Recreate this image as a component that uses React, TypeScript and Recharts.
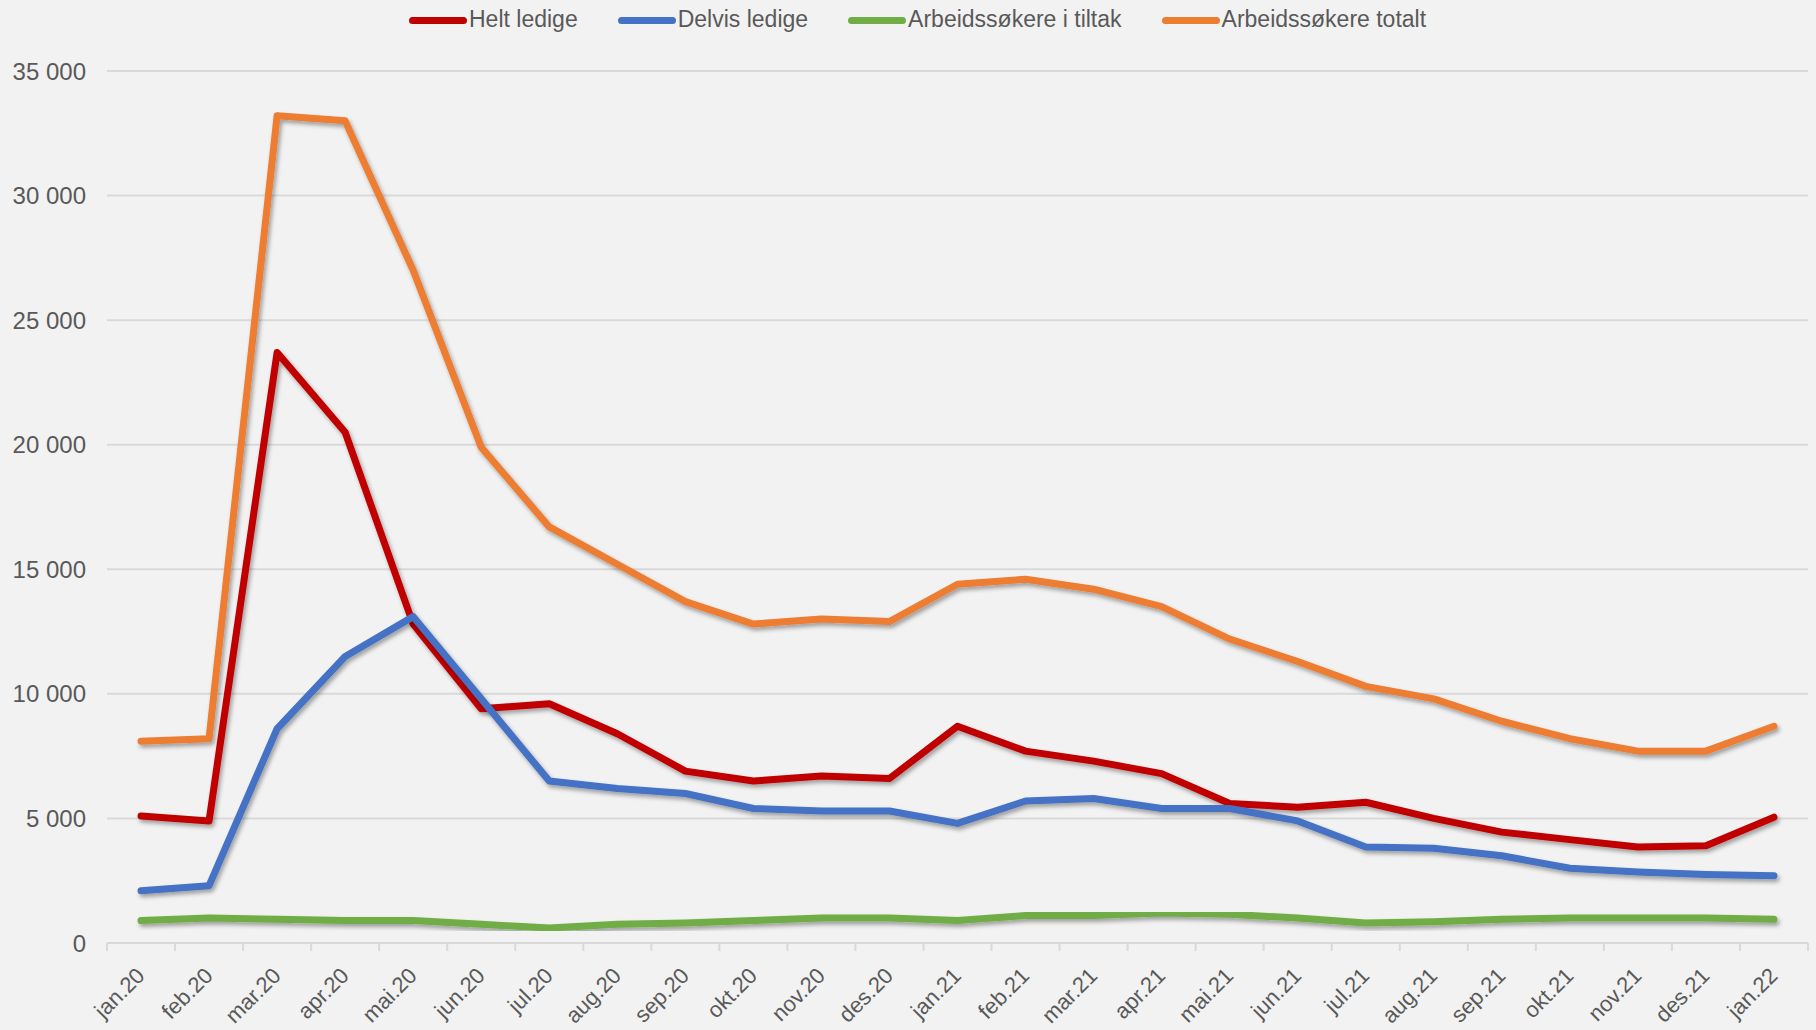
import React from 'react';
import { LineChart, Line, XAxis, YAxis, CartesianGrid } from 'recharts';

const categories = [
  'jan.20', 'feb.20', 'mar.20', 'apr.20', 'mai.20', 'jun.20', 'jul.20', 'aug.20', 'sep.20', 'okt.20',
  'nov.20', 'des.20', 'jan.21', 'feb.21', 'mar.21', 'apr.21', 'mai.21', 'jun.21', 'jul.21', 'aug.21',
  'sep.21', 'okt.21', 'nov.21', 'des.21', 'jan.22',
];

const heltLedige = [
  5100, 4900, 23700, 20500, 12800, 9400, 9600, 8400, 6900, 6500,
  6700, 6600, 8700, 7700, 7300, 6800, 5600, 5450, 5650, 5000,
  4450, 4150, 3850, 3900, 5050,
];

const delvisLedige = [
  2100, 2300, 8600, 11500, 13100, 9800, 6500, 6200, 6000, 5400,
  5300, 5300, 4800, 5700, 5800, 5400, 5400, 4900, 3850, 3800,
  3500, 3000, 2850, 2750, 2700,
];

const iTiltak = [
  900, 1000, 950, 900, 900, 750, 600, 750, 800, 900,
  1000, 1000, 900, 1100, 1100, 1200, 1150, 1000, 800, 850,
  950, 1000, 1000, 1000, 950,
];

const totalt = [
  8100, 8200, 33200, 33000, 27000, 19900, 16700, 15200, 13700, 12800,
  13000, 12900, 14400, 14600, 14200, 13500, 12200, 11300, 10300, 9800,
  8900, 8200, 7700, 7700, 8700,
];

const yTicks = [0, 5000, 10000, 15000, 20000, 25000, 30000, 35000];

const series = [
  { key: 'helt', name: 'Helt ledige', color: '#c00000', values: heltLedige },
  { key: 'delvis', name: 'Delvis ledige', color: '#4472c4', values: delvisLedige },
  { key: 'tiltak', name: 'Arbeidssøkere i tiltak', color: '#70ad47', values: iTiltak },
  { key: 'totalt', name: 'Arbeidssøkere totalt', color: '#ed7d31', values: totalt },
];

const data = categories.map((c, i) => {
  const row: Record<string, any> = { cat: c };
  series.forEach((s) => { row[s.key] = s.values[i]; });
  return row;
});

const W = 1816;
const H = 1030;
const MARGIN = { top: 71, right: 8, bottom: 0, left: 0 };
const Y_AXIS_W = 107;
const X_AXIS_H = 87;
const PLOT_W = W - MARGIN.right - MARGIN.left - Y_AXIS_W;
const BAND = PLOT_W / categories.length;
const FONT = '"Liberation Sans", Arial, sans-serif';
const TEXT = '#595959';
const GRID = '#d9d9d9';

const fmt = (v: number) => String(v).replace(/\B(?=(\d{3})+(?!\d))/g, ' ');

const XTick = (props: any) => {
  const { x, y, payload, index } = props;
  const left = x - BAND / 2;
  return (
    <g>
      <line x1={left} y1={y} x2={left} y2={y + 8} stroke={GRID} strokeWidth={2} />
      {index === categories.length - 1 && (
        <line x1={x + BAND / 2} y1={y} x2={x + BAND / 2} y2={y + 8} stroke={GRID} strokeWidth={2} />
      )}
      <text
        x={x + 5}
        y={y + 34}
        transform={`rotate(-45 ${x + 5} ${y + 34})`}
        textAnchor="end"
        fill={TEXT}
        fontSize={22}
        fontFamily={FONT}
      >
        {payload.value}
      </text>
    </g>
  );
};

const LegendBar = () => (
  <div
    style={{
      position: 'absolute',
      left: 409,
      top: 0,
      height: 38,
      display: 'flex',
      alignItems: 'center',
      fontFamily: FONT,
      fontSize: 23,
      color: TEXT,
      whiteSpace: 'nowrap',
    }}
  >
    {series.map((s) => (
      <div key={s.key} style={{ display: 'flex', alignItems: 'center', marginRight: 40 }}>
        <div style={{ width: 58, height: 7, borderRadius: 4, background: s.color, marginRight: 2, marginTop: 3 }} />
        <span>{s.name}</span>
      </div>
    ))}
  </div>
);

export default function App() {
  return (
    <div style={{ position: 'absolute', left: 0, top: 0, width: W, height: H, background: '#f2f2f2', overflow: 'hidden' }}>
      <LineChart width={W} height={H} data={data} margin={MARGIN}>
        <defs>
          <filter id="lineShadow" x="-5%" y="-5%" width="110%" height="120%">
            <feDropShadow dx="2" dy="3" stdDeviation="2" floodColor="#000000" floodOpacity="0.35" />
          </filter>
        </defs>
        <CartesianGrid vertical={false} stroke={GRID} strokeWidth={2} />
        <XAxis
          dataKey="cat"
          height={X_AXIS_H}
          interval={0}
          padding={{ left: BAND / 2, right: BAND / 2 }}
          tickLine={false}
          tickSize={0}
          tickMargin={0}
          axisLine={{ stroke: GRID, strokeWidth: 2 }}
          tick={<XTick />}
        />
        <YAxis
          width={Y_AXIS_W}
          domain={[0, 35000]}
          ticks={yTicks}
          interval={0}
          axisLine={false}
          tickLine={false}
          tickSize={0}
          tickMargin={21}
          tickFormatter={fmt}
          tick={{ fill: TEXT, fontSize: 24, fontFamily: FONT }}
        />
        {series.map((s) => (
          <Line
            key={s.key}
            type="linear"
            dataKey={s.key}
            name={s.name}
            stroke={s.color}
            strokeWidth={7}
            strokeLinecap="round"
            strokeLinejoin="round"
            dot={false}
            activeDot={false}
            filter="url(#lineShadow)"
            isAnimationActive={false}
          />
        ))}
      </LineChart>
      <LegendBar />
    </div>
  );
}
